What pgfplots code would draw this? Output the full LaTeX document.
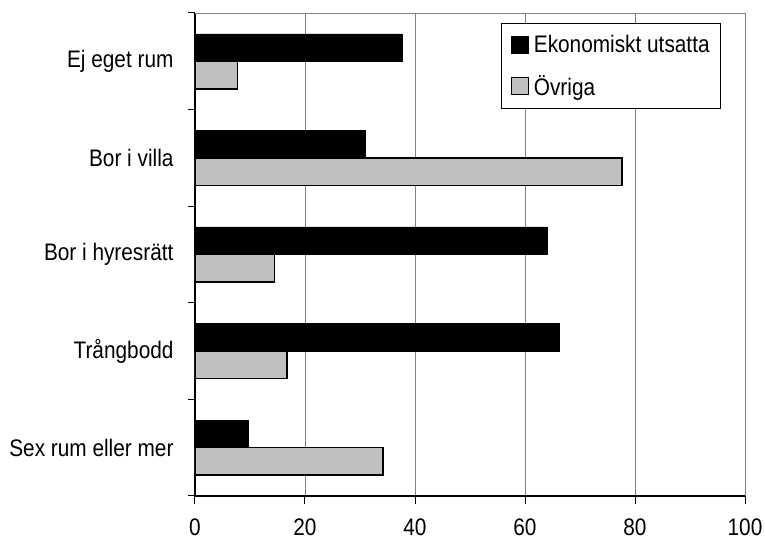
\documentclass[border=0pt]{standalone}
\usepackage{fontspec}
\setmainfont{Liberation Sans}[FakeStretch=0.87]
\usepackage{pgfplots}
\pgfplotsset{compat=1.18}
\definecolor{barGray}{RGB}{192,192,192}
\definecolor{gridGray}{RGB}{128,128,128}
\newcommand{\chartfont}{\fontsize{24}{27}\selectfont}

\begin{document}
\begin{tikzpicture}
\begin{axis}[
    scale only axis,
    width = 550bp,
    height = 483bp,
    xbar,
    bar width = 27.5bp,
    xmin = 0, xmax = 100,
    ymin = -0.5, ymax = 4.5,
    axis lines = left,
    axis line style = {-, line width = 1.2bp},
    xtick = {0,20,...,100},
    xmajorgrids,
    grid style = {gridGray, line width = 0.8bp},
    x tick style = {black, line width = 1bp},
    xtick align = outside,
    major tick length = 8bp,
    ytick = {0,...,4},
    yticklabels = {Sex rum eller mer, Trångbodd, Bor i hyresrätt, Bor i villa, Ej eget rum},
    y tick style = {draw = none},
    extra y ticks = {-0.5,0.5,...,4.5},
    extra y tick labels = {},
    extra y tick style = {y tick style = {draw = black, line width = 1bp}, ytick align = outside, major tick length = 7bp, grid = none},
    tick label style = {font = \chartfont},
    /pgf/number format/assume math mode = true,
    yticklabel style = {xshift = -14bp},
    xticklabel style = {yshift = -11bp},
    legend style = {at = {(axis description cs:0.9564,0.9793)}, anchor = north east,
        draw = black, line width = 0.8bp, fill = white, font = \chartfont,
        inner xsep = 9bp, inner ysep = 10bp, row sep = 17bp},
    legend cell align = left,
    legend image code/.code = {
        \draw[#1, draw = black, line width = 0.8bp] (0bp,-8.5bp) rectangle (17bp,8.5bp);
        \path (20bp,0bp);},
]
\addplot[fill = black, draw = black, bar shift = 13.75bp] coordinates {
    (9.6,0) (66.3,1) (64.1,2) (31.0,3) (37.6,4)};
\addplot[fill = barGray, draw = black, line width = 1.5bp, bar shift = -13.75bp] coordinates {
    (34.2,0) (16.7,1) (14.5,2) (77.6,3) (7.7,4)};
\legend{Ekonomiskt utsatta, Övriga}
\draw[gridGray, line width = 0.8bp] (rel axis cs:0,1) -- (rel axis cs:1,1);
\coordinate (sw) at (rel axis cs:0,0);
\end{axis}
\pgfresetboundingbox
\path[use as bounding box] ([shift={(-195bp,-51bp)}]sw) rectangle ([shift={(570bp,496bp)}]sw);
\end{tikzpicture}
\end{document}
